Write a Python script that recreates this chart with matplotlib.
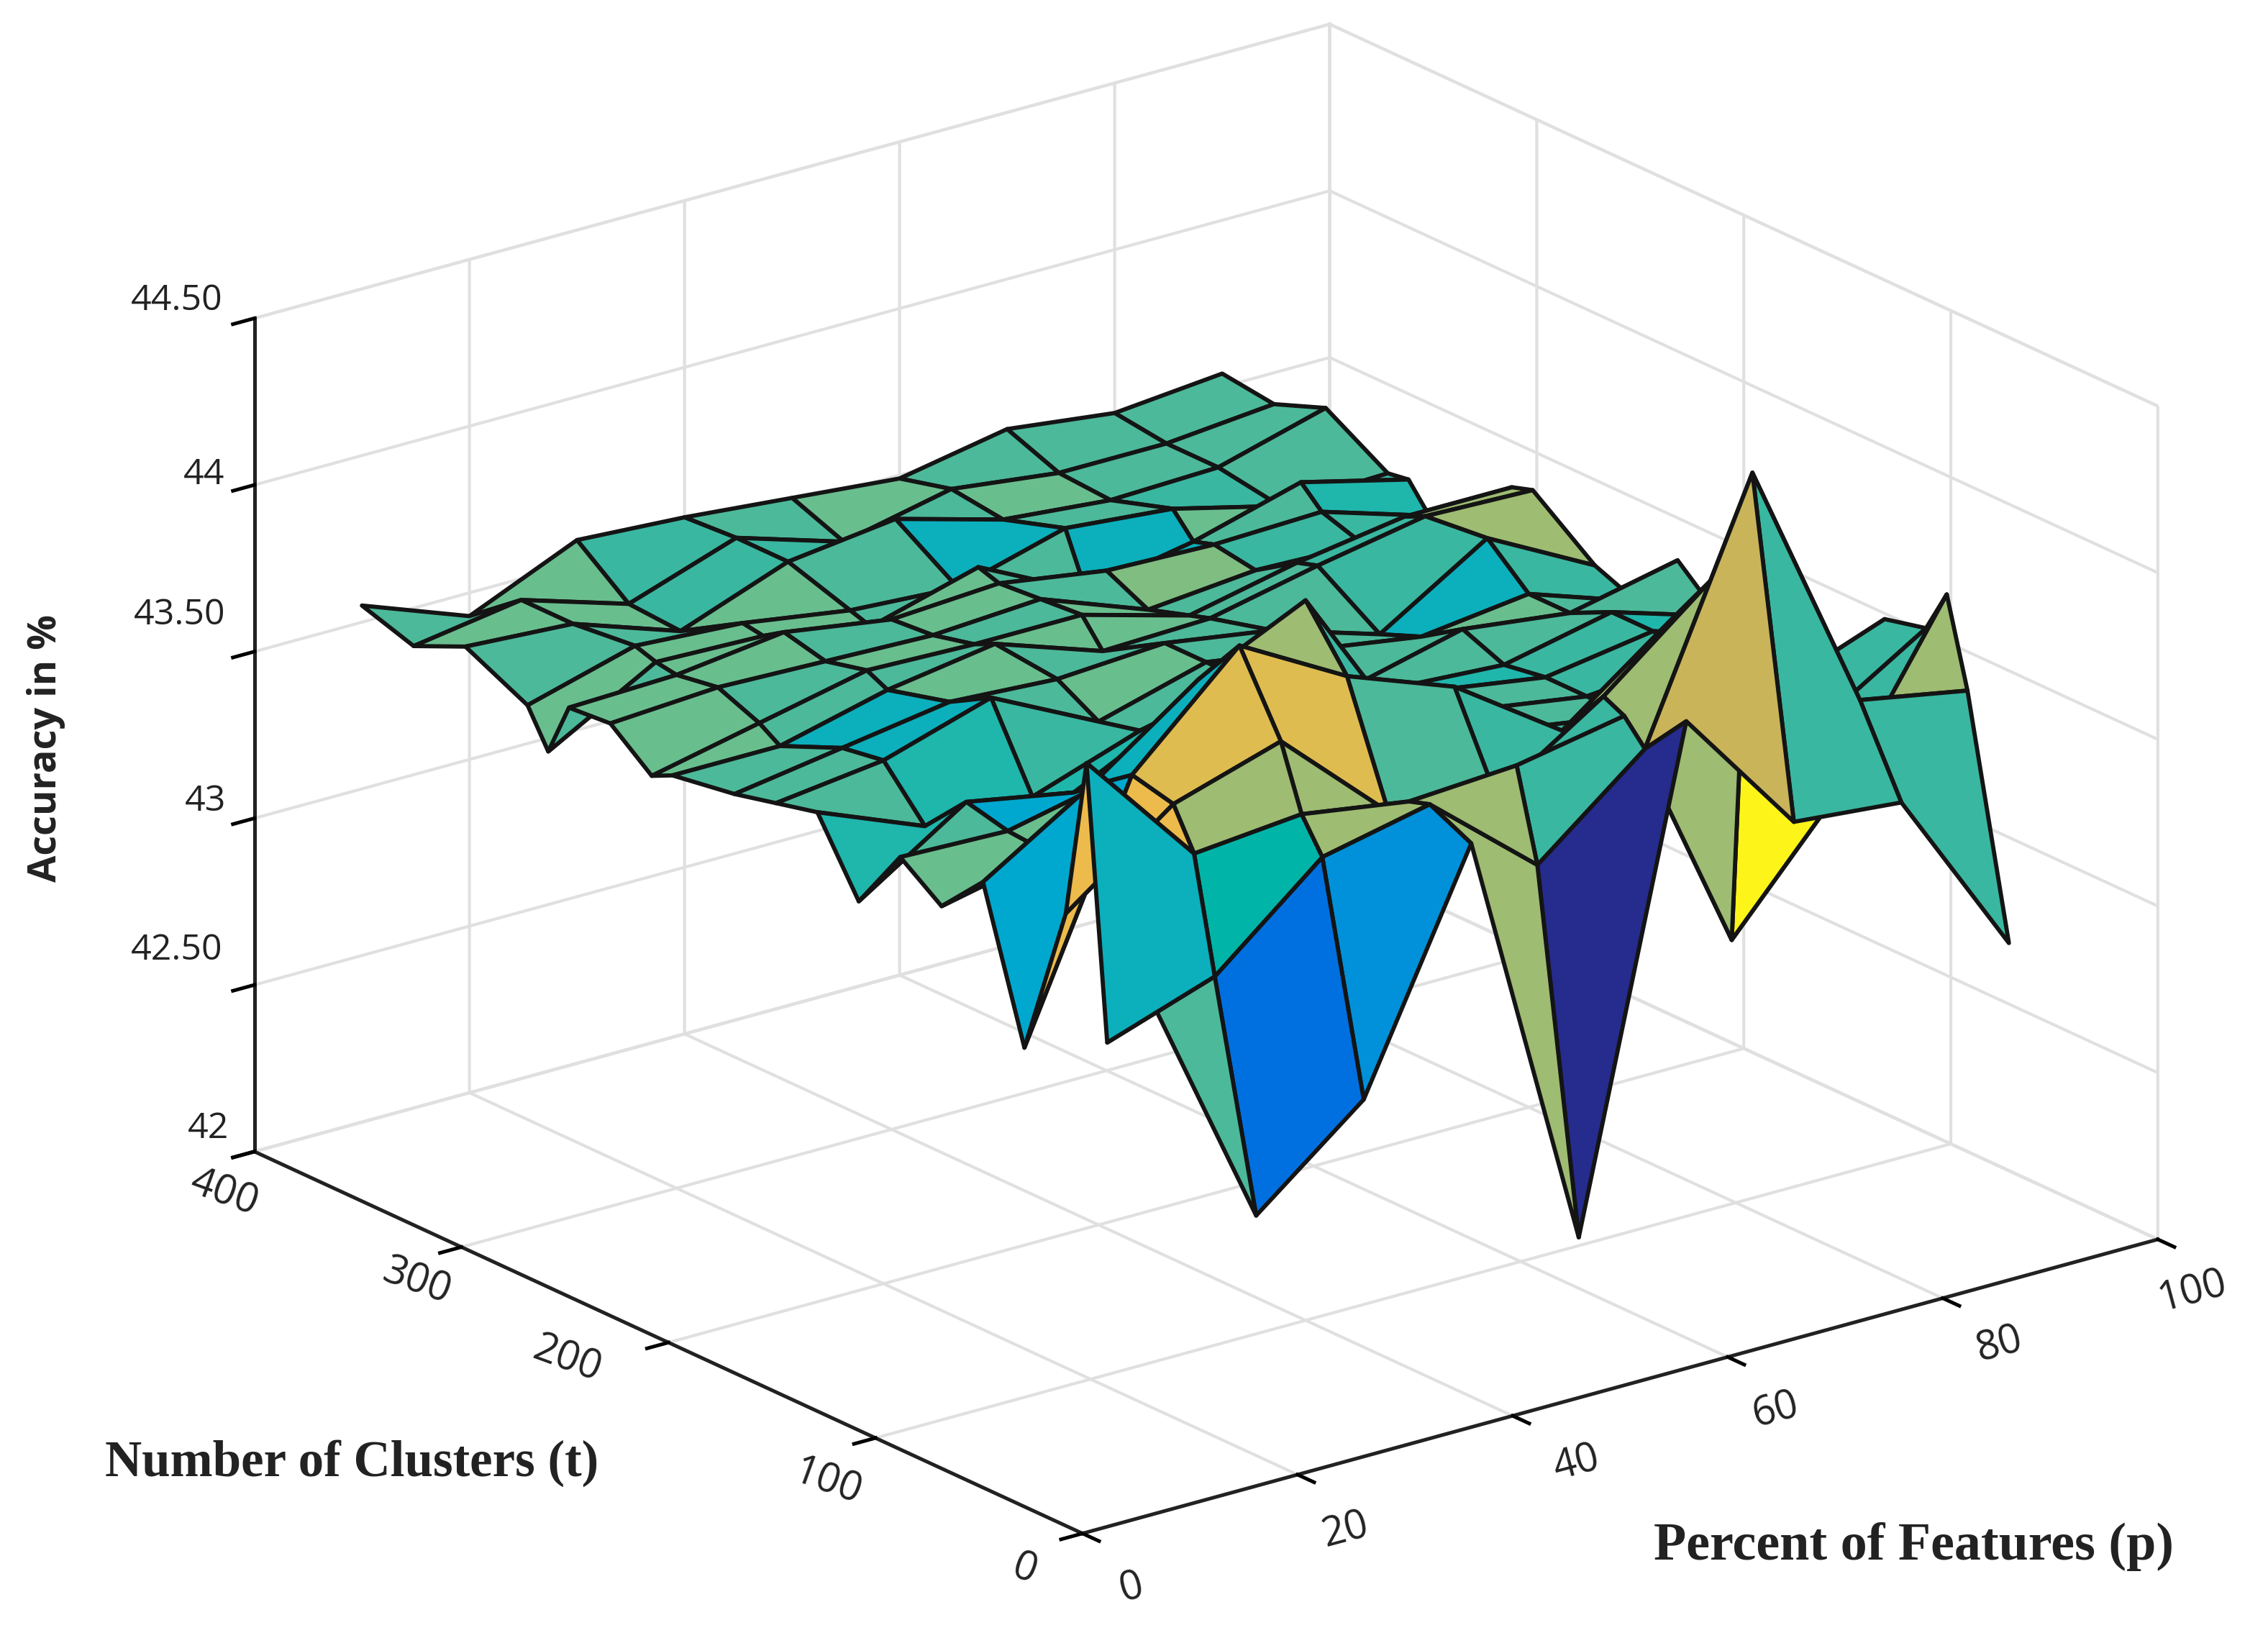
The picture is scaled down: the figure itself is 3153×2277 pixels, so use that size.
import numpy as np
import matplotlib
matplotlib.use("Agg")
import matplotlib.pyplot as plt
from mpl_toolkits.mplot3d import proj3d

W, H = 3153, 2277
DPI = 300
SCALE = W / 1568.0

percent = [10, 20, 30, 40, 50, 60, 70, 80, 90]
clusters = [20, 40, 50, 60, 80, 100, 120, 140, 160, 180, 200, 220, 250, 260, 280, 300, 310, 320, 350, 375, 400]

acc_t20 = [43.47, 42.72, 42.98, 43.66, 42.39, 43.85, 43.46, 43.43, 42.92]
acc_t40 = [43.27, 43.38, 43.65, 43.72, 43.45, 43.71, 44.45, 43.68, 43.62]
acc_t50 = [44.08, 43.72, 43.75, 43.70, 43.72, 43.78, 43.02, 43.38, 43.88]
acc_t60 = [43.60, 43.84, 43.94, 43.64, 43.60, 43.81, 44.07, 43.55, 43.75]
acc_t80 = [43.14, 43.87, 44.17, 43.99, 43.87, 43.65, 43.89, 43.60, 43.72]
acc_t100 = [43.58, 43.78, 44.01, 44.16, 43.65, 43.60, 43.55, 43.58, 43.55]
acc_t120 = [43.45, 43.52, 43.75, 44.00, 43.65, 43.60, 43.55, 43.58, 43.50]
acc_t140 = [43.54, 43.53, 43.60, 43.80, 43.65, 43.60, 43.55, 43.60, 43.50]
acc_t160 = [43.35, 43.56, 43.50, 43.66, 43.60, 43.55, 43.53, 43.60, 43.50]
acc_t180 = [43.56, 43.43, 43.43, 43.54, 43.60, 43.50, 43.58, 43.54, 43.61]
acc_t200 = [43.53, 43.57, 43.67, 43.51, 43.60, 43.55, 43.50, 43.54, 43.43]
acc_t220 = [43.50, 43.55, 43.60, 43.58, 43.60, 43.55, 43.45, 43.65, 43.48]
acc_t250 = [43.47, 43.47, 43.55, 43.60, 43.49, 43.50, 43.57, 43.63, 43.62]
acc_t260 = [43.44, 43.51, 43.58, 43.57, 43.57, 43.48, 43.55, 43.60, 43.60]
acc_t280 = [43.54, 43.56, 43.55, 43.54, 43.56, 43.44, 43.47, 43.46, 43.50]
acc_t300 = [43.53, 43.54, 43.58, 43.53, 43.55, 43.50, 43.49, 43.50, 43.40]
acc_t310 = [43.37, 43.55, 43.54, 43.48, 43.57, 43.41, 43.47, 43.56, 43.48]
acc_t320 = [43.48, 43.57, 43.55, 43.50, 43.48, 43.57, 43.54, 43.46, 43.47]
acc_t350 = [43.57, 43.55, 43.44, 43.56, 43.60, 43.51, 43.48, 43.49, 43.58]
acc_t375 = [43.50, 43.55, 43.45, 43.56, 43.46, 43.53, 43.49, 43.49, 43.52]
acc_t400 = [43.55, 43.43, 43.57, 43.55, 43.52, 43.49, 43.55, 43.51, 43.54]
accuracy = [acc_t20, acc_t40, acc_t50, acc_t60, acc_t80, acc_t100, acc_t120, acc_t140, acc_t160,
            acc_t180, acc_t200, acc_t220, acc_t250, acc_t260, acc_t280, acc_t300, acc_t310,
            acc_t320, acc_t350, acc_t375, acc_t400]

palette = {'G': '#4cb99a', 'L': '#69be8e', 'T': '#3ab7a0', 'C': '#1fb6ac', 'D': '#0bb0bc',
           'O': '#9ebc72', 'H': '#7fbd80', 'Y': '#dfbc50', 'A': '#edbb4b', 'K': '#c9b45a',
           'U': '#00a8cf', 'M': '#0091da', 'B': '#0070e0', 'N': '#262b8e', 'E': '#fdf51a',
           'S': '#00b5a8'}
face_tones = ["GBMONKTT", "DSOOTOEO", "AOOTTOTT", "AYYGTOTT", "UDOTGTTT", "GGLTTGTT", "LLGCGGTT",
              "GUGGGCTC", "CGCGLGGG", "GCTGGGLG", "GDGLGGDT", "GDLGGGTO", "LGGLLGTO", "LGLGLGGT",
              "LLGLGHTT", "GLGLGDGC", "LLLGGDLT", "GGLGDGTG", "LLTTGLGG", "GLTGLGGG"]

x_ticks = [0, 20, 40, 60, 80, 100]
y_ticks = [0, 100, 200, 300, 400]
z_ticks = [42, 42.5, 43, 43.5, 44, 44.5]
z_tick_labels = ['42', '42.50', '43', '43.50', '44', '44.50']

plt.rcParams['font.family'] = ['Open Sans', 'DejaVu Sans']
plt.rcParams['grid.color'] = '#e0e0e0'
plt.rcParams['grid.linewidth'] = 1.0
plt.rcParams['axes.linewidth'] = 1.2

fig = plt.figure(figsize=(W / DPI, H / DPI), dpi=DPI, facecolor='white')
side = 0.9
ax = fig.add_axes([0.05, 0.05, side * H / W, side], projection='3d', proj_type='ortho')
ax.view_init(elev=20.8, azim=-127.6)
ax.set_box_aspect((938, 938, 616))
ax.set_xlim(0, 100)
ax.set_ylim(0, 400)
ax.set_zlim(42, 44.5)

P, Tm = np.meshgrid(percent, clusters)
Z = np.array(accuracy)
cols = np.array([[matplotlib.colors.to_rgba(palette[c]) for c in row] for row in face_tones])
ax.plot_surface(P, Tm, Z, rstride=1, cstride=1, facecolors=cols, shade=False,
                edgecolor='#141414', linewidth=1.4, antialiased=True)

ax.set_xticks(x_ticks)
ax.set_yticks(y_ticks)
ax.set_zticks(z_ticks)
ax.set_xticklabels([])
ax.set_yticklabels([])
ax.set_zticklabels([])
for axis in (ax.xaxis, ax.yaxis, ax.zaxis):
    axis.set_pane_color((1, 1, 1, 1))
    axis.pane.set_edgecolor('#e0e0e0')
    axis.line.set_color('#222222')
    axis.line.set_linewidth(1.2)
    axis._axinfo['tick']['inward_factor'] = 0.25
    axis._axinfo['tick']['outward_factor'] = 0.0
    axis._axinfo['tick']['linewidth'] = {True: 1.2, False: 0.5}
    axis._axinfo['tick']['color'] = '#222222'
ax.patch.set_alpha(0)

# fit the box onto the reference corners (origin, x end, y end, z top)
targets = {(0, 0, 42): (748, 1060), (100, 0, 42): (1492, 857), (0, 400, 42): (176, 796), (0, 400, 44.5): (176, 220)}
for _ in range(4):
    fig.canvas.draw()
    src, dst = [], []
    for (a, b, c), (u, v) in targets.items():
        xs, ys, _z = proj3d.proj_transform(a, b, c, ax.get_proj())
        src.append(ax.transData.transform((xs, ys)))
        dst.append((u * SCALE, H - v * SCALE))
    src, dst = np.array(src), np.array(dst)
    s = np.sqrt(((dst - dst.mean(0)) ** 2).sum() / ((src - src.mean(0)) ** 2).sum())
    pos = ax.get_position(original=True)
    l, b, w, h = pos.x0 * W, pos.y0 * H, pos.width * W, pos.height * H
    w2, h2 = w * s, h * s
    c0 = src.mean(0)
    cx = l + w / 2
    cy = b + h / 2
    cx2 = dst.mean(0)[0] - (c0[0] - cx) * s
    cy2 = dst.mean(0)[1] - (c0[1] - cy) * s
    ax.set_position([(cx2 - w2 / 2) / W, (cy2 - h2 / 2) / H, w2 / W, h2 / H])


def put(u, v, text, **kw):
    fig.text(u / 1568, 1 - v / 1132, text, ha='center', va='center', **kw)


label_color = '#222222'
for v, (u, y) in zip(x_ticks, [(782, 1098), (930, 1058), (1090, 1012), (1228, 975), (1382, 930), (1516, 893)]):
    put(u, y, str(v), fontsize=13.5, rotation=15, color=label_color)
for v, (u, y) in zip(y_ticks, [(708, 1085), (572, 1025), (392, 940), (288, 886), (155, 825)]):
    put(u, y, str(v), fontsize=13.5, rotation=-20, color=label_color)
for v, (u, y) in zip(z_tick_labels, [(144, 780), (122, 657), (142, 554), (124, 425), (141, 328), (122, 208)]):
    put(u, y, v, fontsize=12, color=label_color)

put(32, 517, 'Accuracy in %', fontsize=13, rotation=90, fontweight='bold', color='#222222')
put(243, 1011, 'Number of Clusters (t)', fontsize=17, fontweight='bold', color='#222222', family='Liberation Serif')
put(1323, 1069, 'Percent of Features (p)', fontsize=17.8, fontweight='bold', color='#222222', family='Liberation Serif')

fig.savefig('out.png', dpi=DPI, facecolor='white')
